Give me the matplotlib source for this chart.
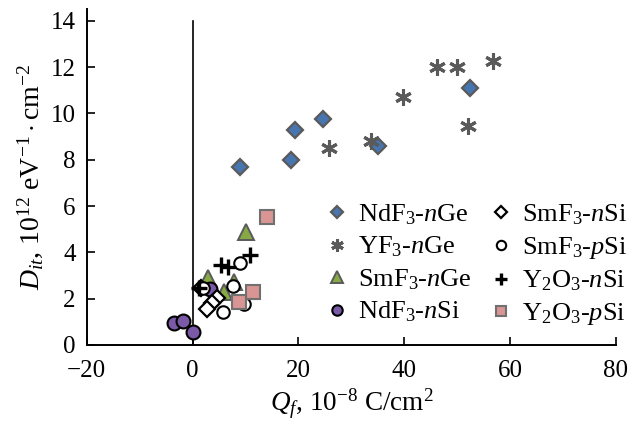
import matplotlib
matplotlib.use("Agg")
import matplotlib.pyplot as plt

plt.rcParams['font.family'] = ['Liberation Serif', 'DejaVu Serif']
plt.rcParams['mathtext.fontset'] = 'custom'
plt.rcParams['mathtext.rm'] = 'Liberation Serif'
plt.rcParams['mathtext.it'] = 'Liberation Serif:italic'
plt.rcParams['mathtext.bf'] = 'Liberation Serif:bold'

# Data (Qf, 1e-8 C/cm^2 ; Dit, 1e12 eV^-1 cm^-2)
ndf3_nge_x = [9.0, 18.6, 19.4, 24.7, 35.0, 52.5]
ndf3_nge_y = [7.7, 8.0, 9.3, 9.75, 8.6, 11.1]
yf3_nge_x = [25.7, 33.7, 39.7, 46.1, 49.9, 52.0, 56.8]
yf3_nge_y = [8.5, 8.8, 10.7, 12.0, 12.0, 9.45, 12.25]
smf3_nge_x = [10.1, 3.0, 7.8, 5.9]
smf3_nge_y = [4.86, 2.91, 2.73, 2.29]
ndf3_nsi_x = [-3.6, -1.9, 0.0, 3.2]
ndf3_nsi_y = [0.94, 1.04, 0.57, 2.4]
smf3_nsi_x = [4.6, 3.7, 2.7, 1.6]
smf3_nsi_y = [2.05, 1.80, 1.54, 2.48]
smf3_psi_x = [8.9, 7.7, 5.7, 9.8, 2.0]
smf3_psi_y = [3.55, 2.57, 1.44, 1.76, 2.46]
y2o3_nsi_x = [5.4, 6.7, 10.8, 1.3]
y2o3_nsi_y = [3.45, 3.38, 3.89, 2.48]
y2o3_psi_x = [14.0, 11.5, 8.7]
y2o3_psi_y = [5.54, 2.30, 1.86]

fig = plt.figure(figsize=(6.39, 4.23), dpi=100)
ax = fig.add_axes([0.1357, 0.1844, 0.8283, 0.7936])

ax.axvline(0, ymin=0, ymax=14/14.5, color='black', lw=1.2, zorder=1)

gray = '#5a5a5a'
h1 = ax.plot(ndf3_nge_x, ndf3_nge_y, 'D', ms=8.5, mfc='#4775b0', mec=gray, mew=1.6, ls='none', label=r'NdF$_3$-$n$Ge')[0]
h2 = ax.plot(yf3_nge_x, yf3_nge_y, marker=(6, 2, 0), ms=12, mec=gray, mew=2.2, ls='none', label=r'YF$_3$-$n$Ge')[0]
h3 = ax.plot(smf3_nge_x, smf3_nge_y, '^', ms=11, mfc='#86a845', mec=gray, mew=1.4, ls='none', label=r'SmF$_3$-$n$Ge')[0]
h4 = ax.plot(ndf3_nsi_x, ndf3_nsi_y, 'o', ms=10, mfc='#7a5aa6', mec='black', mew=1.5, ls='none', label=r'NdF$_3$-$n$Si')[0]
h5 = ax.plot(smf3_nsi_x, smf3_nsi_y, 'D', ms=8, mfc='white', mec='black', mew=1.6, ls='none', label=r'SmF$_3$-$n$Si')[0]
h6 = ax.plot(smf3_psi_x, smf3_psi_y, 'o', ms=9, mfc='white', mec='black', mew=1.5, ls='none', label=r'SmF$_3$-$p$Si')[0]
h7 = ax.plot(y2o3_nsi_x, y2o3_nsi_y, '+', ms=12, mec='black', mew=2.4, ls='none', label=r'Y$_2$O$_3$-$n$Si')[0]
h8 = ax.plot(y2o3_psi_x, y2o3_psi_y, 's', ms=10, mfc='#d99593', mec='#707070', mew=1.5, ls='none', label=r'Y$_2$O$_3$-$p$Si')[0]

ax.set_xlim(-20, 80)
ax.set_ylim(0, 14.5)
ax.set_xticks([-20, 0, 20, 40, 60, 80])
ax.set_xticklabels(['\u221220', '0', '20', '40', '60', '80'])
ax.set_yticks([0, 2, 4, 6, 8, 10, 12, 14])

for s in ['top', 'right']:
    ax.spines[s].set_visible(False)
for s in ['left', 'bottom']:
    ax.spines[s].set_linewidth(1.4)

ax.tick_params(direction='in', length=6, width=1.2, labelsize=18)
ax.tick_params(axis='x', pad=11)
ax.tick_params(axis='y', pad=8)

ax.set_xlabel(r'$Q_f$, 10$^{-8}$ C/cm$^2$', fontsize=19.5, labelpad=3)
ax.set_ylabel(r'$D_{it}$, 10$^{12}$ eV$^{-1}\cdot$cm$^{-2}$', fontsize=20, labelpad=4)

handles = [h1, h2, h3, h4, h5, h6, h7, h8]
leg = ax.legend(handles=handles, ncol=2, loc='upper left', bbox_to_anchor=(0.423, 0.48),
                frameon=False, fontsize=19, markerscale=0.75, handlelength=0.6,
                handletextpad=0.5, columnspacing=0.8, labelspacing=0.3, borderpad=0.2)

fig.savefig('out.png', dpi=100)
